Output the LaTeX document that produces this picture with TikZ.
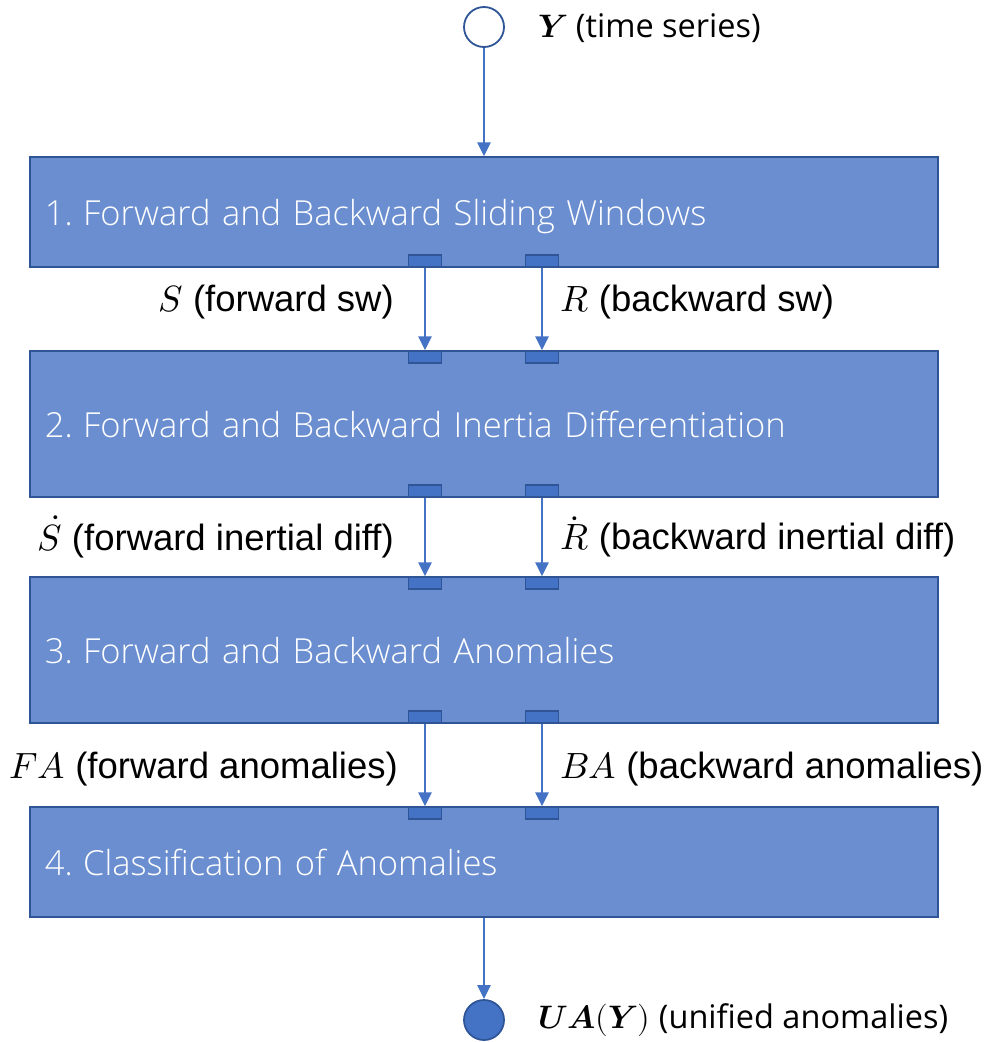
\documentclass[tikz,border=0pt]{standalone}
\usepackage{fontspec}
\usepackage{unicode-math}
\setmathfont{Latin Modern Math}
\usetikzlibrary{arrows.meta}
\newfontfamily\boxfont{Open Sans}[UprightFont={* Light}]
\newfontfamily\labfont{Liberation Sans}
\newfontfamily\endfont{Open Sans}
\definecolor{boxfill}{HTML}{6A8ED0}
\definecolor{boxline}{HTML}{2F5597}
\definecolor{acc}{HTML}{4472C4}
\tikzset{
  stage/.style={draw=boxline, line width=1.5pt, fill=boxfill, minimum width=908pt,
    text width=878pt, align=left, inner sep=0pt, text=white, text depth=0pt,
    font=\boxfont\fontsize{34.5}{40}\selectfont},
  port/.style={draw=boxline, line width=1.5pt, fill=acc, minimum width=33pt,
    minimum height=12pt, inner sep=0pt},
  arr/.style={draw=acc, line width=2.8pt, -{Triangle[length=14pt,width=13pt]}},
  lab/.style={inner sep=0pt, font=\labfont\fontsize{36.5}{42}\selectfont},
  endlab/.style={inner sep=0pt, anchor=west, font=\endfont\fontsize{32.5}{38}\selectfont},
  term/.style={circle, draw=boxline, line width=1.8pt, minimum size=40pt, inner sep=0pt}
}
\newcommand{\nsp}{\hspace{-7pt} }
\begin{document}
\begin{tikzpicture}[x=1pt,y=-1pt]
\useasboundingbox (0,0) rectangle (990,1042);
% terminals
\node[term, fill=white] (in) at (484,27) {};
\node[term, fill=acc] (out) at (484,1020) {};
\node[endlab] (inlab) at (538,28) {$\symbfit{Y}$ (time series)};
\node[endlab] (outlab) at (538,1020) {$\symbfit{UA}\symbf{(}\symbfit{Y}\symbf{)}$ (unified anomalies)};
% stages
\node[stage, minimum height=110pt] (b1) at (484,212) {1.\nsp Forward and Backward Sliding Windows};
\node[stage, minimum height=146pt] (b2) at (484,424) {2.\nsp Forward and Backward Inertia Differentiation};
\node[stage, minimum height=146pt] (b3) at (484,650) {3.\nsp Forward and Backward Anomalies};
\node[stage, minimum height=110pt] (b4) at (484,862) {4.\nsp Classification of Anomalies};
% ports
\node[port] (p1a) at (425,261) {};
\node[port] (p1b) at (542,261) {};
\node[port] (p2ai) at (425,357) {};
\node[port] (p2bi) at (542,357) {};
\node[port] (p2a) at (425,491) {};
\node[port] (p2b) at (542,491) {};
\node[port] (p3ai) at (425,583) {};
\node[port] (p3bi) at (542,583) {};
\node[port] (p3a) at (425,717) {};
\node[port] (p3b) at (542,717) {};
\node[port] (p4ai) at (425,813) {};
\node[port] (p4bi) at (542,813) {};
% connectors
\draw[arr] (in) -- (b1);
\draw[arr] (p1a.south) -- (p2ai.north);
\draw[arr] (p1b.south) -- (p2bi.north);
\draw[arr] (p2a.south) -- (p3ai.north);
\draw[arr] (p2b.south) -- (p3bi.north);
\draw[arr] (p3a.south) -- (p4ai.north);
\draw[arr] (p3b.south) -- (p4bi.north);
\draw[arr] (b4) -- (out);
% labels
\node[lab, anchor=east] (l1a) at (394,302) {$S$ (forward sw)};
\node[lab, anchor=west] (l1b) at (560,302) {$R$ (backward sw)};
\node[lab, anchor=east] (l2a) at (394,537) {$\dot{S}$ (forward inertial diff)};
\node[lab, anchor=west] (l2b) at (560,537) {$\dot{R}$ (backward inertial diff)};
\node[lab, anchor=east] (l3a) at (398,769) {$FA$ (forward anomalies)};
\node[lab, anchor=west] (l3b) at (560,769) {$BA$ (backward anomalies)};
\end{tikzpicture}
\end{document}
